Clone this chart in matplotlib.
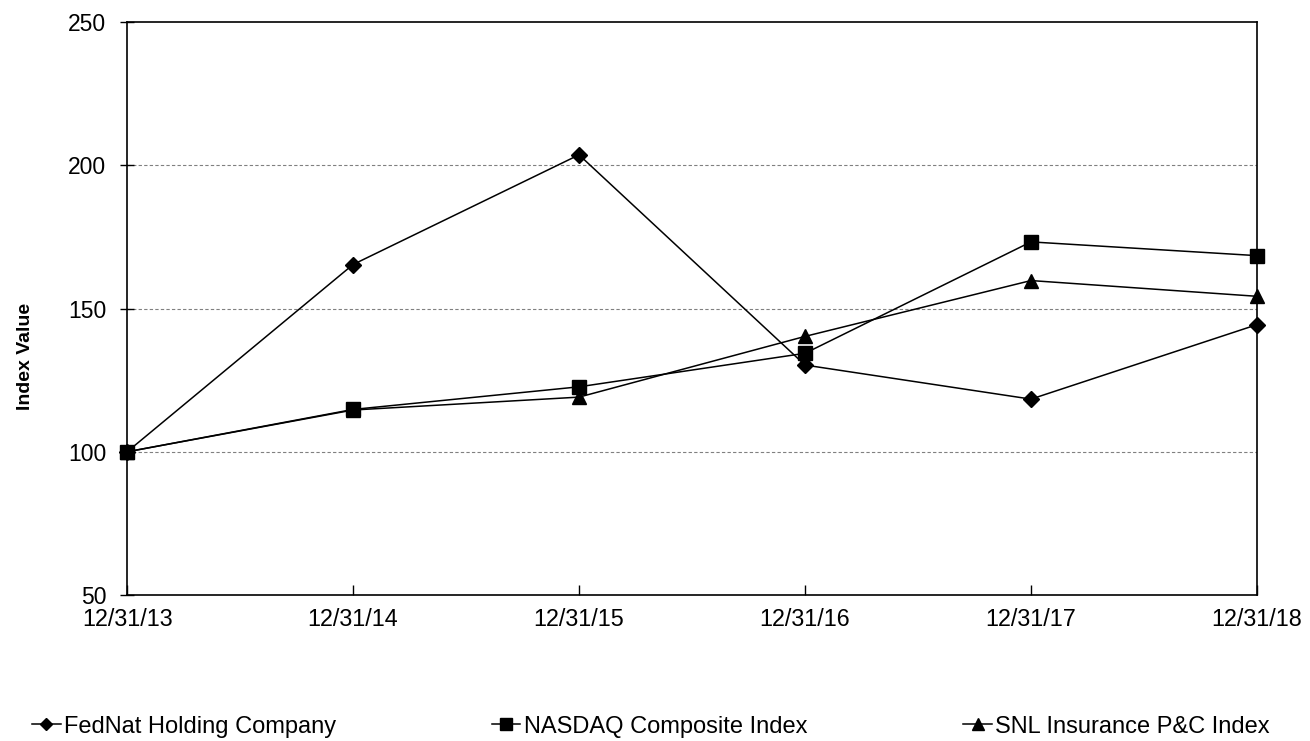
import matplotlib.pyplot as plt

plt.rcParams['font.family'] = ['Liberation Sans', 'DejaVu Sans']

dates = ['12/31/13', '12/31/14', '12/31/15', '12/31/16', '12/31/17', '12/31/18']
fednat = [100, 165.4, 203.7, 130.3, 118.4, 144.4]
nasdaq = [100, 114.8, 122.7, 134.4, 173.3, 168.5]
snl = [100, 114.6, 119.1, 140.3, 159.8, 154.3]
yticks = [50, 100, 150, 200, 250]

fig = plt.figure(figsize=(13.1, 7.41), dpi=100)
ax = fig.add_axes([0.097, 0.197, 0.8625, 0.773])

x = list(range(len(dates)))
ax.plot(x, fednat, color='black', lw=1.1, marker='D', ms=8, label='FedNat Holding Company', zorder=3, clip_on=False)
ax.plot(x, nasdaq, color='black', lw=1.1, marker='s', ms=10, label='NASDAQ Composite Index', zorder=3, clip_on=False)
ax.plot(x, snl, color='black', lw=1.1, marker='^', ms=10, label='SNL Insurance P&C Index', zorder=3, clip_on=False)

ax.set_xlim(0, len(dates) - 1)
ax.set_ylim(50, 250)
ax.set_xticks(x)
ax.set_xticklabels(dates)
ax.set_yticks(yticks)
for v in yticks[1:-1]:
    ax.axhline(v, color='#808080', lw=0.8, ls=(0, (3, 2)), zorder=1)

ax.tick_params(axis='x', direction='in', length=7, width=1, labelsize=16.8, pad=9)
ax.tick_params(axis='y', direction='inout', length=10, width=1, labelsize=16.5, pad=10)
for s in ax.spines.values():
    s.set_linewidth(1.2)

ax.set_ylabel('Index Value', fontsize=14, fontweight='bold')
ax.yaxis.set_label_coords(-0.082, 0.417)

fig.legend(loc='lower center', bbox_to_anchor=(0.497, -0.024), ncol=3, frameon=False,
           fontsize=17, columnspacing=6.6, handlelength=1.2, handletextpad=0.15, markerscale=0.8)

fig.savefig('out.png', dpi=100)
